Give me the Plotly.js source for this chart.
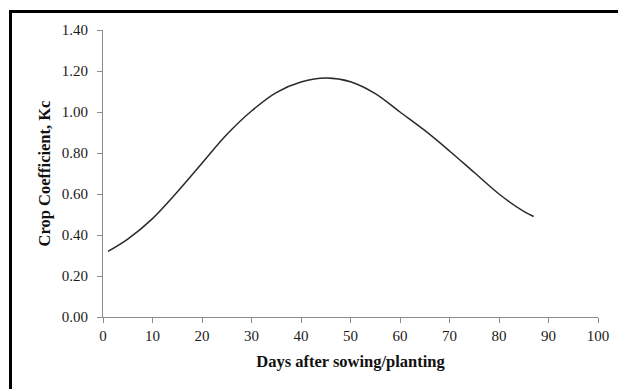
<!DOCTYPE html>
<html>
<head>
<meta charset="utf-8">
<script src="https://cdn.plot.ly/plotly-3.0.1.min.js"></script>
<style>
html,body{margin:0;padding:0;background:#fff;}
#wrap{position:relative;width:618px;height:389px;overflow:hidden;}
#frame{position:absolute;left:9px;top:10px;width:700px;height:500px;border-left:3px solid #000;border-top:3px solid #000;pointer-events:none;z-index:5;}
#chart{position:absolute;left:0;top:0;width:618px;height:389px;}
</style>
</head>
<body>
<div id="wrap">
<div id="chart"></div>
<div id="frame"></div>
</div>
<script>
const days = [1, 5, 10, 15, 20, 25, 30, 35, 40, 45, 50, 55, 60, 65, 70, 75, 80, 85, 87];
const kc = [0.32, 0.38, 0.48, 0.61, 0.75, 0.89, 1.005, 1.095, 1.146, 1.166, 1.148, 1.09, 1.00, 0.91, 0.81, 0.705, 0.60, 0.515, 0.49];
const xTicks = [0, 10, 20, 30, 40, 50, 60, 70, 80, 90, 100];
const yTicks = [0, 0.2, 0.4, 0.6, 0.8, 1.0, 1.2, 1.4];

const trace = {
  x: days, y: kc, type: 'scatter', mode: 'lines',
  line: {color: '#2a2a2a', width: 1.5, shape: 'spline', smoothing: 1.0},
  hoverinfo: 'skip'
};
const serif = '"Liberation Serif", "Times New Roman", serif';
const tickFont = {family: serif, size: 15, color: '#1a1a1a'};
const titleFont = {family: serif, size: 16.5, color: '#111'};
const layout = {
  width: 618, height: 389,
  margin: {l: 103, r: 20, t: 30, b: 72},
  paper_bgcolor: 'rgba(0,0,0,0)', plot_bgcolor: '#fff',
  showlegend: false,
  font: tickFont,
  xaxis: {
    range: [0, 100], tickvals: xTicks, ticktext: xTicks.map(String),
    showgrid: false, zeroline: false, showline: true, linecolor: '#8c8c8c', linewidth: 1,
    ticks: 'outside', ticklen: 5, tickcolor: '#8c8c8c', tickfont: tickFont,
    title: {text: '<b>Days after sowing/planting</b>', font: titleFont, standoff: 12}
  },
  yaxis: {
    range: [0, 1.4], tickvals: yTicks, ticktext: yTicks.map(v => v.toFixed(2)),
    showgrid: false, zeroline: false, showline: true, linecolor: '#8c8c8c', linewidth: 1,
    ticks: 'outside', ticklen: 5, tickcolor: '#8c8c8c', tickfont: tickFont,
    ticklabelstandoff: 6,
    title: {text: '<b>Crop Coefficient, Kc</b>', font: titleFont, standoff: 6}
  }
};
Plotly.newPlot('chart', [trace], layout, {staticPlot: true, displayModeBar: false});
</script>
</body>
</html>
